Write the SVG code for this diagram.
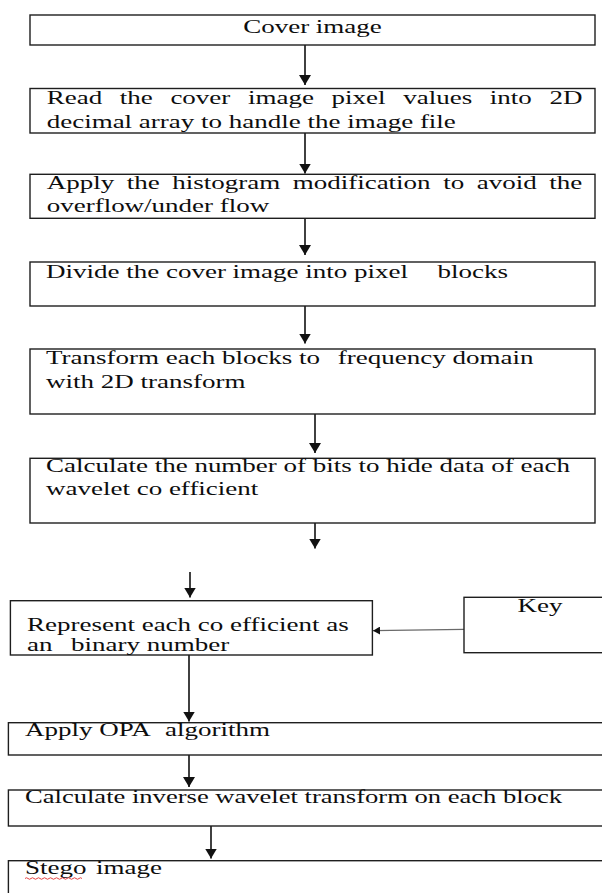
<svg xmlns="http://www.w3.org/2000/svg" width="602" height="893" viewBox="0 0 602 893">
<style>
.box{fill:#ffffff;stroke:#1e1e1e;stroke-width:1.4}
.t{font-family:"Liberation Serif","Times New Roman",serif;font-size:18px;fill:#0d0d0d}
.c{stroke:#111111;stroke-width:1.6;fill:none}
.k{stroke:#6a6a6a;stroke-width:1.3;fill:none}
</style>
<defs>
<marker id="ah" markerUnits="userSpaceOnUse" markerWidth="12" markerHeight="12" refX="10" refY="6" orient="auto">
<path d="M0,0 L10,6 L0,12 Z" fill="#111111"/>
</marker>
<marker id="ahs" markerUnits="userSpaceOnUse" markerWidth="8" markerHeight="8" refX="7" refY="4" orient="auto">
<path d="M0,0 L7,4 L0,8 Z" fill="#111111"/>
</marker>
</defs>
<rect width="602" height="893" fill="#ffffff"/>

<g id="connectors">
<line class="c" x1="305" y1="45" x2="305" y2="85" marker-end="url(#ah)"/>
<line class="c" x1="305" y1="133" x2="305" y2="173.5" marker-end="url(#ah)"/>
<line class="c" x1="305" y1="218.3" x2="305" y2="255" marker-end="url(#ah)"/>
<line class="c" x1="305" y1="306" x2="305" y2="343.5" marker-end="url(#ah)"/>
<line class="c" x1="315" y1="414" x2="315" y2="453" marker-end="url(#ah)"/>
<line class="c" x1="315" y1="523" x2="315" y2="548.5" marker-end="url(#ah)"/>
<line class="c" x1="190" y1="572" x2="190" y2="597.5" marker-end="url(#ah)"/>
<line class="c" x1="189" y1="655" x2="189" y2="721.5" marker-end="url(#ah)"/>
<line class="c" x1="189" y1="755" x2="189" y2="787" marker-end="url(#ah)"/>
<line class="c" x1="211" y1="826" x2="211" y2="858.5" marker-end="url(#ah)"/>
<line class="k" x1="464" y1="629.3" x2="373" y2="630.7" marker-end="url(#ahs)"/>
</g>

<g id="cover">
<rect class="box" x="30" y="15" width="565" height="30"/>
<g transform="scale(1.5 1)"><text class="t" x="208.33" y="33" text-anchor="middle">Cover image</text></g>
</g>

<g id="read">
<rect class="box" x="30" y="88.5" width="565" height="44.5"/>
<g transform="scale(1.5 1)">
<text class="t" y="104.5"><tspan x="31.13">Read</tspan><tspan x="79.87">the</tspan><tspan x="113.6">cover</tspan><tspan x="165.33">image</tspan><tspan x="221.07">pixel</tspan><tspan x="268.8">values</tspan><tspan x="326.53">into</tspan><tspan x="366.27">2D</tspan></text>
<text class="t" x="31.13" y="127.5">decimal array to handle the image file</text>
</g>
</g>

<g id="histogram">
<rect class="box" x="30" y="174.3" width="565" height="44"/>
<g transform="scale(1.5 1)">
<text class="t" y="189.5"><tspan x="31.13">Apply</tspan><tspan x="84.47">the</tspan><tspan x="114.8">histogram</tspan><tspan x="195.13">modification</tspan><tspan x="295.47">to</tspan><tspan x="317.8">avoid</tspan><tspan x="366.13">the</tspan></text>
<text class="t" x="31.13" y="212.5">overflow/under flow</text>
</g>
</g>

<g id="divide">
<rect class="box" x="30" y="262" width="565" height="44"/>
<g transform="scale(1.5 1)">
<text class="t" y="278.5"><tspan x="30.67">Divide the cover image into pixel</tspan><tspan x="291.73">blocks</tspan></text>
</g>
</g>

<g id="transform">
<rect class="box" x="30" y="349" width="565" height="65"/>
<g transform="scale(1.5 1)">
<text class="t" y="364"><tspan x="30.67">Transform each blocks to</tspan><tspan x="225.2">frequency domain</tspan></text>
<text class="t" x="30.67" y="388">with 2D transform</text>
</g>
</g>

<g id="calculate">
<rect class="box" x="30" y="458.3" width="565" height="64.7"/>
<g transform="scale(1.5 1)">
<text class="t" x="30.67" y="472">Calculate the number of bits to hide data of each</text>
<text class="t" x="30.67" y="495.5">wavelet co efficient</text>
</g>
</g>

<g id="represent">
<rect class="box" x="10.4" y="600.7" width="362" height="54.3"/>
<g transform="scale(1.5 1)">
<text class="t" x="18" y="631">Represent each co efficient as</text>
<text class="t" y="651.5"><tspan x="18">an</tspan><tspan x="47.33">binary number</tspan></text>
</g>
</g>

<g id="key">
<rect class="box" x="464" y="597.3" width="150" height="55.4"/>
<g transform="scale(1.5 1)"><text class="t" x="360" y="612.5" text-anchor="middle">Key</text></g>
</g>

<g id="opa">
<rect class="box" x="8.4" y="722.7" width="600" height="32.3"/>
<g transform="scale(1.5 1)">
<text class="t" y="736.5"><tspan x="16.67">Apply OPA</tspan><tspan x="110">algorithm</tspan></text>
</g>
</g>

<g id="inverse">
<rect class="box" x="8.4" y="790" width="600" height="36"/>
<g transform="scale(1.5 1)">
<text class="t" x="16.67" y="803.5" textLength="358" lengthAdjust="spacingAndGlyphs">Calculate inverse wavelet transform on each block</text>
</g>
</g>

<g id="stego">
<rect class="box" x="8.4" y="860.7" width="600" height="60"/>
<g transform="scale(1.5 1)">
<text class="t" y="874.5"><tspan x="16.67">Stego</tspan><tspan x="64">image</tspan></text>
</g>
<path d="M25,878.5 q1.5,-1.5 3,0 t3,0 t3,0 t3,0 t3,0 t3,0 t3,0 t3,0 t3,0 t3,0 t3,0 t3,0 t3,0 t3,0 t3,0 t3,0 t3,0 t3,0 t3,0" fill="none" stroke="#e03030" stroke-width="0.9"/>
</g>
</svg>
